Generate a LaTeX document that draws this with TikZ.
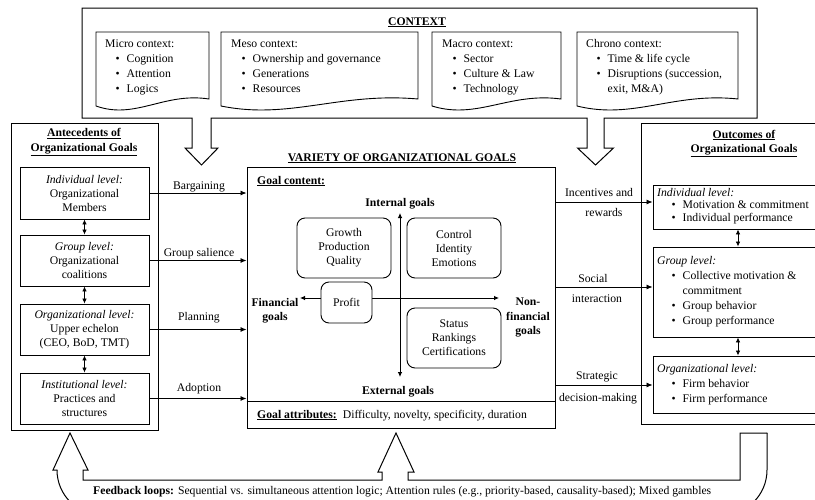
\documentclass[tikz,border=0pt]{standalone}
\usepackage{fontspec}
\setmainfont{Liberation Serif}
\usetikzlibrary{arrows.meta,calc}
\newcommand\bl[1][10.5pt]{\hspace*{#1}\makebox[11pt][l]{\textbullet}}
\tikzset{
  every node/.style={inner sep=0pt, font=\fontsize{11.7}{14}\selectfont},
  frame/.style={draw, line width=1pt},
  box/.style={draw, line width=0.9pt, align=center, fill=white},
  rbox/.style={box, rounded corners=8pt},
  lst/.style={anchor=north west, align=left, font=\fontsize{11.7}{15}\selectfont},
  lab/.style={anchor=base},
  bold/.style={font=\bfseries\fontsize{11.7}{14.5}\selectfont},
  arr/.style={-{Latex[length=6pt,width=5pt]}, line width=0.8pt},
  darr/.style={{Latex[length=5pt,width=4.5pt]}-{Latex[length=5pt,width=4.5pt]}, line width=0.8pt},
}
\begin{document}
\begin{tikzpicture}[x=1pt,y=-1pt]
\useasboundingbox (0,0) rectangle (815,499);
\fill[white] (0,0) rectangle (815,499);
\clip (0,0) rectangle (815,499);

% ---------- CONTEXT ----------
\draw[frame, line join=miter] (82,8) -- (757,8) -- (757,118) -- (604,118) -- (604,148) -- (613.5,148) -- (595.5,165) -- (577.5,148) -- (587,148) -- (587,118) -- (211,118) -- (211,148) -- (218,148) -- (201.5,165) -- (185,148) -- (192,148) -- (192,118) -- (82,118) -- cycle;
\node[lab, bold] (ctx) at (417,25) {\underline{CONTEXT}};
\foreach \L/\R in {96/209, 221/418, 432/561, 577/738}{
  \draw[line width=0.9pt] (\L,32) -- (\R,32) -- (\R,99) .. controls ({\L+0.6*(\R-\L)},92) and ({\L+0.35*(\R-\L)},120) .. (\L,106) -- cycle;
}
\node[lst] (micro) at (105,36.5) {\strut Micro context:\\\bl Cognition\\\bl Attention\\\bl Logics};
\node[lst] (meso) at (231,36.5) {\strut Meso context:\\\bl Ownership and governance\\\bl Generations\\\bl Resources};
\node[lst] (macro) at (442,36.5) {\strut Macro context:\\\bl Sector\\\bl Culture \& Law\\\bl Technology};
\node[lst] (chrono) at (586,36.5) {\strut Chrono context:\\\bl Time \& life cycle\\\bl Disruptions (succession,\\\hspace*{21.5pt}exit, M\&A)};

% ---------- ANTECEDENTS ----------
\node[frame, minimum width=147pt, minimum height=307pt] (ante) at (84.5,276.5) {};
\node[bold, align=center] (antet) at (84,142) {\underline{Antecedents of}\\\underline{Organizational Goals}};
\node[box, minimum width=129pt, minimum height=52pt] (aind) at (84.5,193) {\textit{Individual level:}\\Organizational\\Members};
\node[box, minimum width=129pt, minimum height=51pt] (agrp) at (84.5,260.5) {\textit{Group level:}\\Organizational\\coalitions};
\node[box, minimum width=129pt, minimum height=51pt] (aorg) at (84.5,329.5) {\textit{Organizational level:}\\Upper echelon\\(CEO, BoD, TMT)};
\node[box, minimum width=129pt, minimum height=51pt] (ainst) at (84.5,398.5) {\textit{Institutional level:}\\Practices and\\structures};
\draw[darr] (aind.south) -- (agrp.north);
\draw[darr] (agrp.south) -- (aorg.north);
\draw[darr] (aorg.south) -- (ainst.north);

% ---------- CENTER ----------
\node[lab, bold] (vtitle) at (402,161) {\underline{VARIETY OF ORGANIZATIONAL GOALS}};
\node[frame, minimum width=308pt, minimum height=261pt] (goals) at (401,297.5) {};
\coordinate (divy) at (0,401);
\draw[frame] (goals.west |- divy) -- (goals.east |- divy);
\node[anchor=base west, bold] (gc) at (257,184) {\underline{Goal content:}};
\node[lab, bold] (intg) at (400,206) {Internal goals};
\node[lab, bold] (extg) at (398,394) {External goals};
\node[bold, align=center] (fin) at (275,310.5) {Financial\\goals};
\node[bold, align=center] (nfin) at (528,317.5) {Non-\\financial\\goals};
\coordinate (vt) at (400,213); \coordinate (vb) at (400,377);
\draw[darr] (vt) -- (vb);
\coordinate (hl) at (300,298); \coordinate (hr) at (499,298);
\draw[darr] (hl) -- (hr);
\node[rbox, minimum width=94pt, minimum height=60pt] (g1) at (344,248) {Growth\\Production\\Quality};
\node[rbox, minimum width=94pt, minimum height=60pt] (g2) at (454,248) {Control\\Identity\\Emotions};
\node[rbox, minimum width=51pt, minimum height=41pt] (pr) at (346.5,302.5) {Profit};
\node[rbox, minimum width=94pt, minimum height=60pt] (g3) at (454,338) {Status\\Rankings\\Certifications};
\node[anchor=base west] (ga) at (257,418) {\textbf{\underline{Goal attributes:}}\hspace{6pt}Difficulty, novelty, specificity, duration};

% left arrows
\draw[arr] (aind.east) -- (aind.east -| goals.west);
\draw[arr] (agrp.east) -- (agrp.east -| goals.west);
\draw[arr] (aorg.east) -- (aorg.east -| goals.west);
\draw[arr] (ainst.east) -- (ainst.east -| goals.west);
\node[lab] (l1) at (199,189) {Bargaining};
\node[lab] (l2) at (199,256) {Group salience};
\node[lab] (l3) at (199,320) {Planning};
\node[lab] (l4) at (199,391) {Adoption};

% ---------- OUTCOMES ----------
\node[frame, minimum width=194pt, minimum height=301pt] (outc) at (738,273.5) {};
\node[bold, align=center] (outt) at (744,143.5) {\underline{Outcomes of}\\\underline{Organizational Goals}};
\node[box, minimum width=170pt, minimum height=44pt] (oind) at (738,207) {};
\node[box, minimum width=170pt, minimum height=90pt] (ogrp) at (738,292) {};
\node[box, minimum width=170pt, minimum height=57pt] (oorg) at (738,384.5) {};
\node[lst, font=\fontsize{11.7}{12.8}\selectfont] (oindt) at (657,187) {\strut\textit{Individual level:}\\\bl[14.5pt]Motivation \& commitment\\\bl[14.5pt]Individual performance};
\node[lst] (ogrpt) at (657,253.5) {\strut\textit{Group level:}\\\bl[14.5pt]Collective motivation \&\\\hspace*{25.5pt}commitment\\\bl[14.5pt]Group behavior\\\bl[14.5pt]Group performance};
\node[lst] (oorgt) at (657,361.5) {\strut\textit{Organizational level:}\\\bl[14.5pt]Firm behavior\\\bl[14.5pt]Firm performance};
\draw[darr] (oind.south) -- (ogrp.north);
\draw[darr] (ogrp.south) -- (oorg.north);

% right arrows
\coordinate (y1) at (0,202); \coordinate (y2) at (0,287); \coordinate (y3) at (0,385);
\draw[arr] (goals.east |- y1) -- (oind.west |- y1);
\draw[arr] (goals.east |- y2) -- (ogrp.west |- y2);
\draw[arr] (goals.east |- y3) -- (oorg.west |- y3);
\node[lab] (r1a) at (599,196) {Incentives and};
\node[lab] (r1b) at (604,216) {rewards};
\node[lab] (r2a) at (593,282) {Social};
\node[lab] (r2b) at (597,302) {interaction};
\node[lab] (r3a) at (597,379) {Strategic};
\node[lab] (r3b) at (598,401) {decision-making};

% ---------- FEEDBACK ----------
\draw[frame, line cap=round, line join=miter] (57,470) -- (53,470) -- (70,433) -- (88,470) -- (83,470) -- (83,480) -- (382,480) -- (382,472) -- (378,472) -- (396,433) -- (414,472) -- (408,472) -- (408,480) -- (740,480) -- (740,433) -- (767,433);
\draw[frame, line cap=round, rounded corners=45pt] (767,433) -- (767,515) -- (57,515) -- (57,470);
\node[anchor=base west] (fb) at (93,494) {\textbf{Feedback loops:} Sequential vs. simultaneous attention logic; Attention rules (e.g., priority-based, causality-based); Mixed gambles};
\end{tikzpicture}
\end{document}
